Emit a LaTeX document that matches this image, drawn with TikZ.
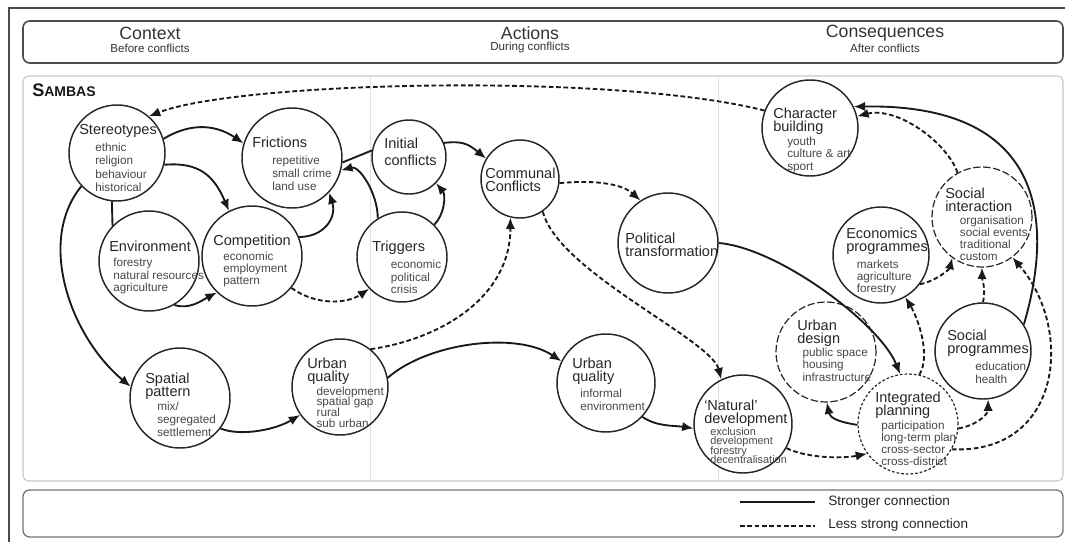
\documentclass[tikz,border=0pt]{standalone}
\usepackage{fontspec}
\setmainfont{Liberation Sans}
\usetikzlibrary{arrows.meta}

% text inside the circles: title lines, gap, indent, item lines
\newcommand{\itmsize}{8.8}
\newcommand{\ctx}[5][9.4]{%
  \vtop{\lineskiplimit=-20pt\lineskip=0pt
    \fontsize{10.9}{9.3}\selectfont\let\\\cr
    \halign{##\hfil\cr#2\crcr}%
    \vskip#3pt
    \moveright#4pt\vtop{\fontsize{\itmsize}{#1}\selectfont
      \halign{\begingroup\color{black!72}##\endgroup\hfil\cr#5\crcr}}}}

\begin{document}
\begin{tikzpicture}[x=0.75pt,y=0.75pt,yscale=-1,xscale=1,
    circ/.style={circle,draw=black!85,line width=1.1pt,inner sep=0pt,minimum size=#1*1.5pt},
    dcirc/.style={circ=#1,dash pattern=on 5.5pt off 2pt,line width=0.9pt},
    pcirc/.style={circ=#1,dash pattern=on 2pt off 1.5pt,line width=0.9pt},
    txt/.style={anchor=north west,inner sep=0pt,text=black!85},
    hd/.style={inner sep=0pt,text=black!80,font=\fontsize{13.3}{14}\selectfont},
    sb/.style={inner sep=0pt,text=black!80,font=\fontsize{8.7}{10}\selectfont},
    strong/.style={line width=1.4pt,draw=black!90},
    weak/.style={strong,dash pattern=on 3.5pt off 2pt},
    arr/.style={-{Latex[length=8.5pt,width=7pt]}}]
		\useasboundingbox (0,0) rectangle (1065,542);

		% frame and boxes
		\draw [black!70,line width=0.8pt] (9,542) -- (9,8) -- (1065,8);
		\draw [black!70,line width=1.2pt,rounded corners=5pt] (23,21) rectangle (1063,63);
		\draw [black!22,line width=0.8pt,rounded corners=4pt] (23,76) rectangle (1063,481);
		\draw [black!12] (370,76) -- (370,481);
		\draw [black!12] (718,76) -- (718,481);
		\draw [black!55,line width=1pt,rounded corners=5pt] (23,490) rectangle (1063,537);

		\node [hd] (h-ctx) at (150,33.5) {Context};
		\node [sb] (h-ctx-s) at (150,48) {Before conflicts};
		\node [hd] (h-act) at (530,33.5) {Actions};
		\node [sb] (h-act-s) at (530,48) {During conflicts};
		\node [hd] (h-con) at (885,33.5) {Consequences};
		\node [sb] (h-con-s) at (885,48) {After conflicts};
		\node [anchor=base west,inner sep=0pt,text=black!90] (sambas) at (32,97) {\bfseries\fontsize{13.6}{14}\selectfont S\fontsize{10.5}{12}\selectfont AMBAS};

		% circles
		\node [circ=48] (st) at (117,153) {};
		\node [circ=50] (fr) at (292,158) {};
		\node [circ=50] (en) at (149,261) {};
		\node [circ=50] (co) at (252,256) {};
		\node [circ=37] (ini) at (409,157) {};
		\node [circ=45] (tr) at (402,257) {};
		\node [circ=39] (cc) at (520,179) {};
		\node [circ=50] (pol) at (668,243) {};
		\node [circ=48] (uqa) at (340,387) {};
		\node [circ=50] (sp) at (180,398) {};
		\node [circ=49] (uqb) at (606,383) {};
		\node [circ=49] (nd) at (743,424) {};
		\node [dcirc=50] (ud) at (826,352) {};
		\node [pcirc=50] (ip) at (908,424) {};
		\node [circ=48] (so) at (983,351) {};
		\node [circ=48] (ep) at (881,255) {};
		\node [dcirc=50] (si) at (982,217) {};
		\node [circ=48] (cb) at (810,128) {};

		% texts
		\node [txt] (st-t) at (79,124) {\ctx[10]{Stereotypes}{3.5}{12}{ethnic\\religion\\behaviour\\historical}};
		\node [txt] (fr-t) at (252,137) {\ctx[9.75]{Frictions}{3.5}{15}{repetitive\\small crime\\land use}};
		\node [txt] (en-t) at (109,241) {\ctx{Environment}{2}{3}{forestry\\natural resources\\agriculture}};
		\node [txt] (co-t) at (213,235) {\ctx[9]{Competition}{2}{7.5}{economic\\employment\\pattern}};
		\node [txt] (ini-t) at (384,138) {\ctx{Initial\\\noalign{\vskip3.4pt}conflicts}{0}{0}{}};
		\node [txt] (tr-t) at (372,241) {\ctx{Triggers}{3.5}{14}{economic\\political\\crisis}};
		\node [txt] (cc-t) at (485,168) {\ctx{Communal\\Conflicts}{0}{0}{}};
		\node [txt] (pol-t) at (625,233) {\ctx{Political\\transformation}{0}{0}{}};
		\node [txt] (uqa-t) at (307,358) {\ctx[8]{Urban\\quality}{1.2}{7}{development\\spatial gap\\rural\\sub urban}};
		\node [txt] (sp-t) at (145,373) {\ctx[9.75]{Spatial\\pattern}{1.2}{9}{mix/\\segregated\\settlement}};
		\node [txt] (uqb-t) at (572,358) {\ctx[9.75]{Urban\\quality}{2.7}{6}{informal\\environment}};
		\node [txt] (nd-t) at (704,400) {\renewcommand\itmsize{8.2}\ctx[7]{‘Natural’\\development}{0}{4.5}{exclusion\\development\\forestry\\decentralisation}};
		\node [txt] (ud-t) at (797,320) {\ctx{Urban\\design}{0.5}{4}{public space\\housing\\infrastructure}};
		\node [txt] (ip-t) at (875,392) {\ctx[9]{Integrated\\planning}{1.2}{4.5}{participation\\long-term plan\\cross-sector\\cross-district}};
		\node [txt] (so-t) at (947,330) {\ctx[9.75]{Social\\programmes}{3.5}{21}{education\\health}};
		\node [txt] (ep-t) at (846,228) {\ctx[9]{Economics\\programmes}{3.5}{8}{markets\\agriculture\\forestry}};
		\node [txt] (si-t) at (945,188) {\ctx[9]{Social\\interaction}{0.5}{11}{organisation\\social events\\traditional\\custom}};
		\node [txt] (cb-t) at (773,108) {\ctx{Character\\building}{1.2}{10.5}{youth\\culture \& art\\sport}};

		% stronger connections
		\draw [strong,arr] (st.17) .. controls +(25,-15) and +(-30,-20) .. (fr.163);
		\draw [strong,arr] (st.-14) .. controls +(35,-3) and +(-15,-35) .. (co.117);
		\draw [strong] (st.264) -- (en.136);
		\draw [strong,arr] (en.-60) .. controls +(15,5) and +(-15,8) .. (co.226);
		\draw [strong,arr] (co.22) .. controls +(25,0) and +(8,25) .. (fr.-43);
		\draw [strong] (fr.-5) -- (ini.170);
		\draw [strong,arr] (tr.122) .. controls +(0,-25) and +(18,-5) .. (fr.-14);
		\draw [strong,arr] (tr.45) .. controls +(10,-10) and +(10,12) .. (ini.-44);
		\draw [strong,arr] (ini.22) .. controls +(18,-2) and +(-18,-15) .. (cc.149);
		\draw [strong,arr] (st.223) .. controls +(-45,55) and +(-60,-50) .. (sp.167);
		\draw [strong,arr] (sp.-37) .. controls +(20,8) and +(-25,15) .. (uqa.215);
		\draw [strong,arr] (uqa.11) .. controls +(40,-35) and +(-45,-30) .. (uqb.154);
		\draw [strong,arr] (uqb.-43) .. controls +(15,10) and +(-20,-3) .. (nd.185);
		\draw [strong,arr] (pol.0) .. controls +(60,5) and +(-20,-50) .. (ip.99);
		\draw [strong,arr] (so.33) .. controls +(27,-92) and +(200,-3) .. (cb.26);
		\draw [strong,arr] (ip.181) .. controls +(-20,-3) and +(3,15) .. (ud.271);

		% less strong connections
		\draw [weak,arr] (cb.159) .. controls +(-150,-38) and +(90,-35) .. (st.49);
		\draw [weak,arr] (co.-39) .. controls +(25,18) and +(-22,15) .. (tr.224);
		\draw [weak,arr] (cc.-6) .. controls +(30,-3) and +(-20,-18) .. (pol.123);
		\draw [weak,arr] (cc.-55) .. controls +(15,60) and +(-10,-40) .. (nd.116);
		\draw [weak,arr] (uqa.51) .. controls +(70,-10) and +(0,80) .. (cc.256);
		\draw [weak,arr] (nd.-29) .. controls +(20,10) and +(-25,5) .. (ip.216);
		\draw [weak,arr] (ip.77) .. controls +(12,-20) and +(12,20) .. (ep.-60);
		\draw [weak,arr] (ip.-5) .. controls +(18,-3) and +(0,15) .. (so.-84);
		\draw [weak,arr] (ip.-30) .. controls +(110,5) and +(62,72) .. (si.-53);
		\draw [weak,arr] (ep.-37) .. controls +(15,-3) and +(-3,12) .. (si.234);
		\draw [weak,arr] (so.90) .. controls +(3,-15) and +(0,12) .. (si.-90);
		\draw [weak,arr] (si.119) .. controls +(-10,-30) and +(40,-10) .. (cb.14);

		% legend
		\coordinate (ls1) at (740,502);
		\coordinate (ls2) at (815,502);
		\coordinate (lw1) at (740,526);
		\coordinate (lw2) at (815,526);
		\draw [strong] (ls1) -- (ls2);
		\draw [weak] (lw1) -- (lw2);
		\node [anchor=west,inner sep=0pt,text=black!85,font=\fontsize{10.2}{12}\selectfont] (ls-t) at (828,502) {Stronger connection};
		\node [anchor=west,inner sep=0pt,text=black!85,font=\fontsize{10.2}{12}\selectfont] (lw-t) at (828,525) {Less strong connection};
\end{tikzpicture}
\end{document}
